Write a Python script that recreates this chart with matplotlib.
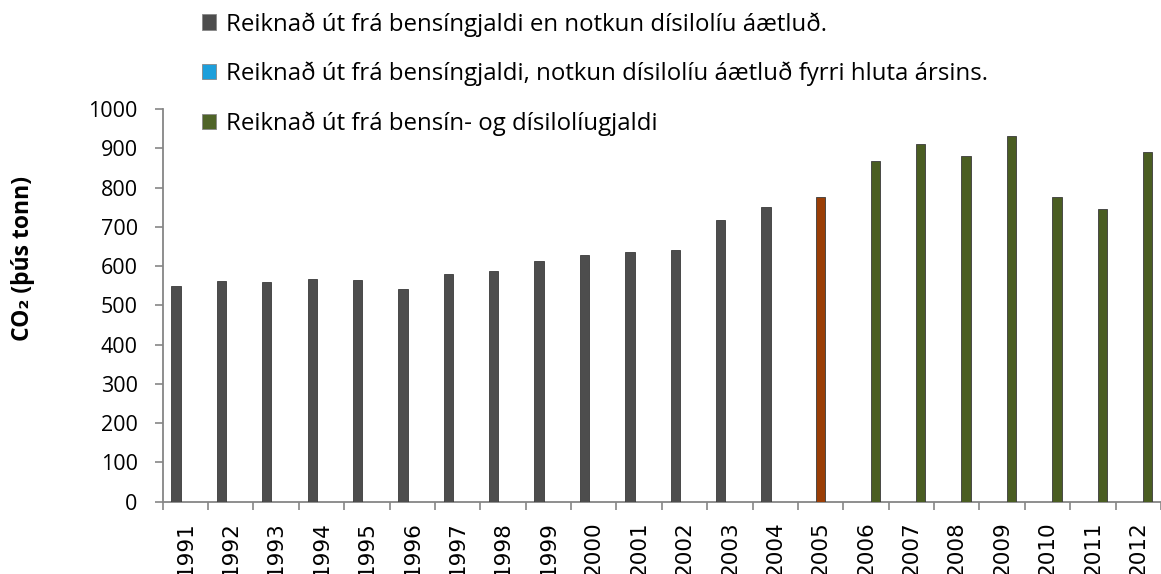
import numpy as np
import matplotlib
matplotlib.use("Agg")
import matplotlib.pyplot as plt
from matplotlib.patches import Patch

years = [str(y) for y in range(1991, 2013)]
nan = np.nan
# Series 1: estimated from petrol tax, diesel use estimated (1991-2004)
s_estimated = [549, 561, 559, 567, 564, 541, 581, 588, 613, 629, 635, 641, 717, 750,
               nan, nan, nan, nan, nan, nan, nan, nan]
# Series 2: diesel use estimated for part of the year (2005)
s_partial = [nan] * 14 + [776] + [nan] * 7
# Series 3: from petrol and diesel tax (2006-2012)
s_full = [nan] * 15 + [867, 910, 881, 932, 777, 745, 890]

labels = ["Reiknað út frá bensíngjaldi en notkun dísilolíu áætluð.",
          "Reiknað út frá bensíngjaldi, notkun dísilolíu áætluð fyrri hluta ársins.",
          "Reiknað út frá bensín- og dísilolíugjaldi"]
bar_colors = ["#4d4d4d", "#9a3e06", "#4a5d22"]
legend_colors = ["#4d4d4d", "#1d9fdb", "#4f6428"]

W, H = 1161, 574
fig = plt.figure(figsize=(W / 100, H / 100), dpi=100)
ax = fig.add_axes([162.7 / W, 1 - 501.7 / H, (W - 162.7) / W, (501.7 - 109) / H])

x = np.arange(len(years))
bw = 0.205
for i, (vals, col) in enumerate(zip([s_estimated, s_partial, s_full], bar_colors)):
    ax.bar(x + (i - 1) * bw, vals, width=bw, color=col, edgecolor="#3a3a3a",
           linewidth=0.6, zorder=3)

ax.set_xlim(-0.5, len(years) - 0.5)
ax.set_ylim(0, 1000)
ax.set_yticks(np.arange(0, 1001, 100))
ax.set_yticklabels([str(v) for v in range(0, 1001, 100)], fontsize=15.5, family="Open Sans")
ax.set_xticks(x)
ax.set_xticklabels(years, rotation=90, fontsize=15.5, family="DejaVu Sans")
ax.set_xticks(np.arange(-0.5, len(years), 1), minor=True)
ax.tick_params(axis="x", which="major", length=0, pad=14)
ax.tick_params(axis="x", which="minor", length=6, color="#868686", width=1.2)
ax.tick_params(axis="y", length=6, color="#868686", width=1.2, pad=12)

for s in ["top", "right"]:
    ax.spines[s].set_visible(False)
for s in ["left", "bottom"]:
    ax.spines[s].set_color("#868686")
    ax.spines[s].set_linewidth(1.3)

fig.text(23 / W, 1 - 258 / H, "CO₂ (þús tonn)", rotation=90, ha="center", va="center",
         fontsize=16.5, fontweight="bold", family=["Open Sans", "DejaVu Sans"])

handles = [Patch(facecolor=c, edgecolor="#888888", linewidth=0.6) for c in legend_colors]
fig.legend(handles, labels, loc="upper left", bbox_to_anchor=(202 / W, 1 - 12 / H),
           frameon=False, prop={"family": "Open Sans", "size": 17.3},
           handlelength=0.6, handleheight=0.6, handletextpad=0.4,
           labelspacing=1.04, borderpad=0, borderaxespad=0)

fig.savefig("out.png", dpi=100)
